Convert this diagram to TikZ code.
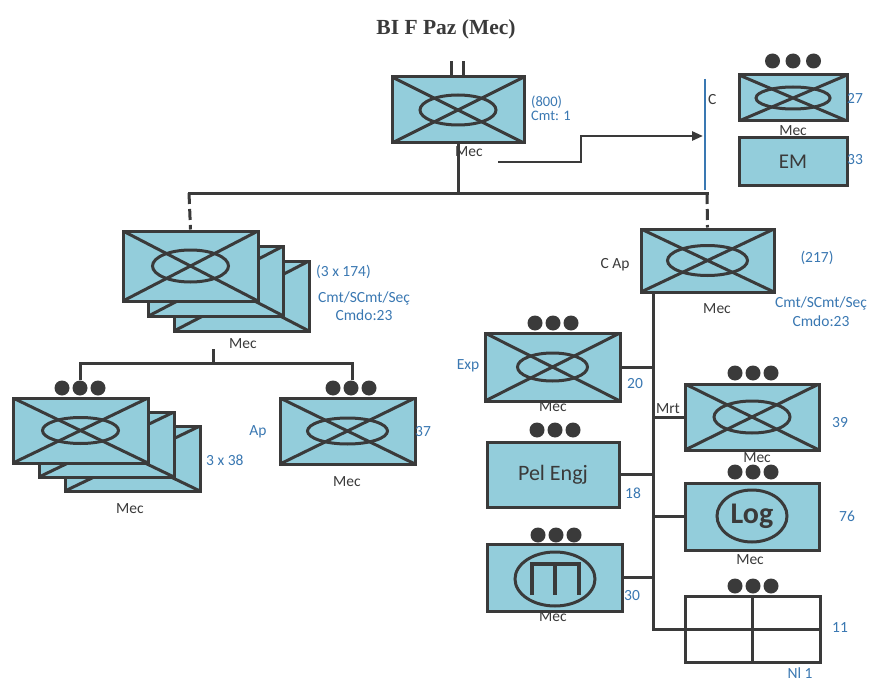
\documentclass[tikz,border=0pt]{standalone}
\usepackage{fontspec}
\setmainfont{Carlito}
\newfontfamily\titlefont{Liberation Serif}
\usetikzlibrary{arrows.meta,shapes.geometric}
\definecolor{lc}{HTML}{3A3A3A}
\definecolor{fc}{HTML}{93CDDB}
\definecolor{bc}{HTML}{3A78B2}
\def\erx{38pt}\def\ery{15pt}
\tikzset{
  erx/.code={\def\erx{#1}},
  ery/.code={\def\ery{#1}},
  lbl/.style={font=\fontsize{15.5}{16}\selectfont, text=lc, inner sep=1pt},
  bt/.style={lbl, text=bc},
  unitbox/.style={draw=lc, fill=fc, line width=3pt, minimum width=134pt, minimum height=66pt, inner sep=0pt},
  mech/.style={unitbox, path picture={
      \draw[lc,line width=3pt] (path picture bounding box.north west) -- (path picture bounding box.south east)
                               (path picture bounding box.south west) -- (path picture bounding box.north east);
      \draw[lc,line width=3pt] (path picture bounding box.center) ellipse [x radius=\erx, y radius=\ery];}},
  conn/.style={draw=lc, line width=3pt},
  threedots/.pic={\foreach \i in {-1,0,1} \fill[lc] (\i*18,0) circle[radius=7.5pt];},
  widedots/.pic={\foreach \i in {-1,0,1} \fill[lc] (\i*20.5,0) circle[radius=7.5pt];}
}
\begin{document}
\begin{tikzpicture}[x=1pt,y=-1pt]
\useasboundingbox (0,0) rectangle (870,682);
\fill[white] (0,0) rectangle (870,682);

% title
\node[font=\titlefont\bfseries\fontsize{21.5}{23}\selectfont, text=lc, inner sep=0pt] (title) at (446,29) {BI F Paz (Mec)};

% battalion HQ
\node[mech, minimum width=132pt] (hq) at (458,110) {};
\draw[conn] ([xshift=-7pt]hq.north) -- ++(0,-14);
\draw[conn] ([xshift=5pt]hq.north) -- ++(0,-14);
\node[bt, anchor=west, align=left, font=\fontsize{14.5}{14}\selectfont, inner sep=0pt] (hqlab) at (531,108) {(800)\\Cmt: 1};
\node[lbl] (hqmec) at (469,152) {Mec};

% staff company
\pic at (793,61) {widedots};
\node[mech, minimum width=108pt, minimum height=46pt, erx=37pt, ery=11pt] (stf) at (793,98) {};
\node[bt] (stfn) at (855,98) {27};
\node[lbl] (stfmec) at (793,131) {Mec};
\node[unitbox, minimum width=108pt, minimum height=47pt, font=\fontsize{21}{21}\selectfont, text=lc] (em) at (793,161.5) {EM};
\node[bt] (emn) at (855,160) {33};

% C line and arrow
\coordinate (ct) at (705,79);
\coordinate (cb) at (705,190);
\draw[bc, line width=1.6pt] (ct) -- (cb);
\node[lbl, anchor=west] (clab) at (707,100) {C};
\coordinate (as) at (498,162);
\coordinate (ae) at (703,136);
\draw[conn, line width=2.6pt, -{Triangle[length=11pt,width=9pt]}] (as) -- (581,162) |- (ae);

% main bar
\coordinate (jL) at (189,193);
\coordinate (jR) at (707,193);
\draw[conn] (hq.south) -- (hq.south |- jL);
\draw[conn, line cap=rect] (jL) -- (jR);

% left company (stacked)
\node[mech, minimum width=135pt, minimum height=70pt, ery=16pt] (coyC) at (241.5,296) {};
\node[mech, minimum width=135pt, minimum height=70pt, ery=16pt] (coyB) at (216,281) {};
\node[mech, minimum width=135pt, minimum height=70pt, ery=16pt] (coyA) at (190.5,266) {};
\draw[conn, dash pattern=on 11pt off 5pt] (jL) -- (coyA.north);
\node[bt, anchor=west] (coylab1) at (315,272) {(3 x 174)};
\node[bt, align=center, font=\fontsize{15.5}{18}\selectfont] (coylab2) at (364,306) {Cmt/SCmt/Seç\\Cmdo:23};
\node[lbl] (coymec) at (243,344) {Mec};

\coordinate (cd) at (213,349);
\coordinate (jB) at (213,363);
\coordinate (plT) at (80,380);
\coordinate (apT) at (352,380);
\draw[conn] (cd) -- (jB);
\draw[conn] (plT) -- (plT |- jB) -- (apT |- jB) -- (apT);

% bottom-left platoons (stacked)
\pic at (80,388) {threedots};
\node[mech, minimum width=135pt, minimum height=65pt, ery=13pt] (plC) at (132.5,458.5) {};
\node[mech, minimum width=135pt, minimum height=65pt, ery=13pt] (plB) at (106.5,444.5) {};
\node[mech, minimum width=135pt, minimum height=65pt, ery=13pt] (plA) at (80.5,430.5) {};
\node[bt, anchor=west] (pln) at (205,460) {3 x 38};
\node[lbl] (plmec) at (130,509) {Mec};

% Ap platoon
\pic at (351,388) {threedots};
\node[mech, minimum width=135pt, erx=40pt, ery=13pt] (ap) at (347.5,431) {};
\node[bt] (aplab) at (258,432) {Ap};
\node[bt] (apn) at (423,432) {37};
\node[lbl] (apmec) at (347,482) {Mec};

% C Ap company
\node[mech, minimum width=133pt, minimum height=63pt, erx=40pt] (cap) at (707.5,260.5) {};
\draw[conn, dash pattern=on 11pt off 5pt] (jR) -- (cap.north);
\node[lbl] (caplab) at (615,265) {C Ap};
\node[bt] (capn) at (817,258) {(217)};
\node[lbl] (capmec) at (717,309) {Mec};
\node[bt, align=center, font=\fontsize{15.5}{19}\selectfont] (caplab2) at (821,312) {Cmt/SCmt/Seç\\Cmdo:23};

% trunk
\coordinate (tT) at (653,292);
\coordinate (tB) at (653,629);

% Exp
\pic at (553,323) {threedots};
\node[mech, minimum width=135pt, minimum height=68pt, erx=35pt, ery=14pt] (exp) at (552.5,367) {};
\node[bt] (explab) at (468,366) {Exp};
\node[bt] (expn) at (635,384) {20};
\node[lbl] (expmec) at (553,407) {Mec};

% Pel Engj
\pic at (555,430) {threedots};
\node[unitbox, minimum width=132pt, minimum height=65pt, font=\fontsize{22}{22}\selectfont, text=lc] (pel) at (553,474.5) {Pel Engj};
\node[bt] (peln) at (633,493) {18};

% Mrt
\pic at (753,373) {threedots};
\node[mech, erx=38pt, ery=16pt] (mrt) at (752,417) {};
\node[lbl] (mrtlab) at (668,409) {Mrt};
\node[bt] (mrtn) at (840,423) {39};
\node[lbl] (mrtmec) at (757,458) {Mec};

% Log
\pic at (753,472) {threedots};
\node[unitbox, minimum height=67pt] (log) at (752,516.5) {};
\node[draw=lc, line width=3pt, ellipse, minimum width=70pt, minimum height=52pt, inner sep=0pt, font=\bfseries\fontsize{30}{30}\selectfont, text=lc] (logsym) at (752,516) {Log};
\node[bt] (logn) at (847,516) {76};
\node[lbl] (logmec) at (750,560) {Mec};

% Maintenance
\pic at (556,535) {threedots};
\node[unitbox, minimum width=135pt, minimum height=67pt] (mnt) at (554.5,577.5) {};
\node[draw=lc, line width=3pt, ellipse, minimum width=80pt, minimum height=54pt, inner sep=0pt] (mntsym) at (555,579) {};
\draw[lc, line width=3.4pt, line cap=butt] ([shift={(-23,16)}]mntsym.center) |- ([shift={(0,-15)}]mntsym.center) -| ([shift={(24,16)}]mntsym.center);
\draw[lc, line width=3.4pt] ([shift={(0,-15)}]mntsym.center) -- ([shift={(0,16)}]mntsym.center);
\node[bt] (mntn) at (632,596) {30};
\node[lbl] (mntmec) at (553,617) {Mec};

% Nl 1
\pic at (753,586) {threedots};
\node[unitbox, fill=white, minimum width=135pt] (nl) at (752.5,629) {};
\draw[conn] (nl.north) -- (nl.south);
\draw[conn] (nl.west) -- (nl.east);
\node[bt] (nln) at (840,628) {11};
\node[bt] (nllab) at (800,673) {Nl 1};

% trunk connectors
\draw[conn] (tT) -- (tB) -- (nl.west);
\draw[conn] (exp.east) -- (exp.east -| tT);
\draw[conn] (pel.east) -- (pel.east -| tT);
\draw[conn] (mrt.west) -- (mrt.west -| tT);
\draw[conn] (log.west) -- (log.west -| tT);
\draw[conn] (mnt.east) -- (mnt.east -| tT);
\end{tikzpicture}
\end{document}
